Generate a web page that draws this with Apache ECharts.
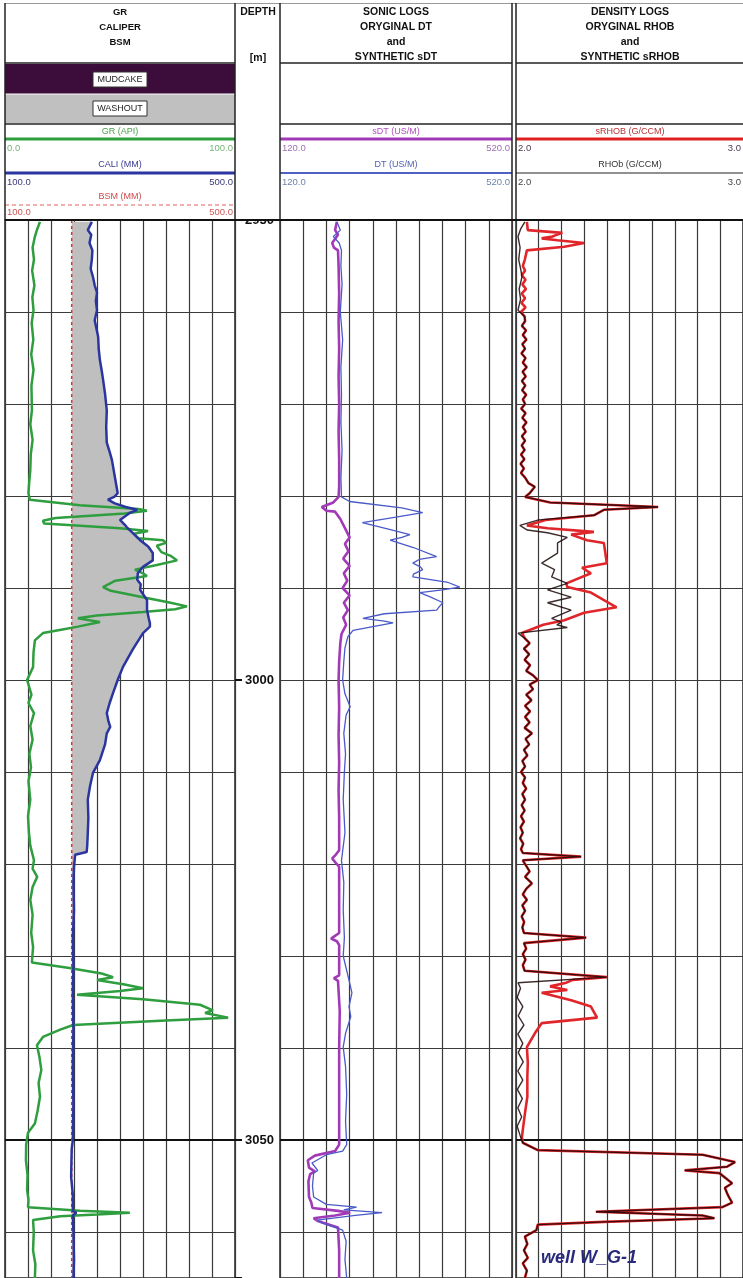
<!DOCTYPE html>
<html><head><meta charset="utf-8">
<script src="https://cdn.jsdelivr.net/npm/echarts@6/dist/echarts.min.js"></script>
<style>html,body{margin:0;padding:0;background:#fff}#c{width:743px;height:1278px}</style>
</head><body><div id="c"></div>
<script>
// ---------------- DATA ----------------
const depthMin = 2950, depthMax = 3065;
const depthTickLabels = [2950, 3000, 3050];
const grScale = [0, 100];
const caliScale = [100, 500];
const sonicScale = [120, 520];
const densScale = [2.0, 3.0];
const bsmValue = 216;

// [depth (m), GR (API)]
const grLog = [
[2950.2,15.2],[2951.0,14.0],[2951.8,13.0],[2953.0,12.0],[2954.3,12.6],[2955.5,11.8],[2957.1,12.8],[2958.4,11.9],
[2959.8,12.4],[2961.2,11.6],[2963.0,12.3],[2964.6,11.4],[2966.3,12.4],[2968.0,11.5],[2970.7,11.7],[2972.2,11.0],
[2973.9,12.0],[2975.5,11.2],[2977.2,11.0],[2978.6,10.5],[2979.7,10.2],[2980.4,10.8],[2981.0,32.6],[2981.4,58.0],
[2981.6,61.7],[2981.9,52.0],[2982.4,22.0],[2982.7,16.5],[2983.0,17.0],[2983.5,50.0],[2983.8,62.2],[2984.1,56.0],
[2984.6,58.0],[2984.8,68.7],[2985.1,70.0],[2985.4,66.0],[2986.1,68.0],[2986.5,72.0],[2987.0,74.8],[2987.5,66.0],
[2988.0,56.5],[2988.4,60.0],[2988.7,61.7],[2989.2,48.0],[2989.9,42.6],[2990.3,46.0],[2991.0,60.0],[2991.6,72.0],
[2992.0,79.1],[2992.3,74.0],[2992.6,60.0],[2993.0,40.0],[2993.3,31.7],[2993.7,41.3],[2994.2,31.7],[2994.5,25.0],
[2994.9,16.5],[2995.7,13.0],[2997.0,12.4],[2998.6,12.2],[3000.0,9.6],[3001.6,11.5],[3002.5,10.2],[3003.6,12.6],
[3005.0,11.0],[3006.5,12.0],[3008.0,10.6],[3009.5,11.3],[3011.0,10.2],[3013.0,11.0],[3014.8,10.0],[3016.6,10.4],
[3018.0,11.0],[3019.6,12.6],[3020.5,12.0],[3021.4,14.0],[3022.5,12.0],[3023.9,11.0],[3025.5,12.0],[3027.5,11.4],
[3029.0,12.2],[3030.7,11.7],[3031.3,28.0],[3031.9,42.0],[3032.3,47.0],[3032.6,40.0],[3033.1,52.0],[3033.5,60.0],
[3033.8,50.0],[3034.2,31.3],[3034.7,60.0],[3035.3,84.8],[3035.9,90.4],[3036.2,87.0],[3036.7,97.0],[3037.0,70.0],
[3037.5,29.6],[3038.0,24.0],[3038.8,16.5],[3039.7,13.9],[3041.0,15.0],[3042.4,15.8],[3043.8,14.6],[3045.3,15.2],
[3046.8,14.2],[3048.2,13.0],[3049.2,10.0],[3050.5,9.2],[3052.2,9.1],[3053.8,9.8],[3055.4,9.6],[3056.5,10.2],
[3057.3,10.0],[3057.7,32.6],[3057.9,54.3],[3058.1,40.0],[3058.3,24.0],[3058.7,12.2],[3060.0,12.5],[3062.0,12.2],
[3063.5,13.2],[3065.0,13.0]
];

// [depth, CALI (mm)]
const caliLog = [
[2950.2,251],[2951.1,244],[2951.6,250],[2952.5,247],[2953.3,252],[2954.3,251],[2955.3,249],[2956.2,253],
[2957.1,256],[2957.9,260],[2958.8,258],[2959.8,260],[2960.9,256],[2961.8,259],[2962.7,262],[2964.0,263],
[2965.2,265],[2966.3,268],[2967.1,270],[2968.9,274],[2970.7,277],[2972.5,276],[2974.2,277],[2975.2,282],
[2976.1,286],[2977.9,291],[2979.7,296],[2980.1,290],[2980.4,279],[2980.8,291],[2981.2,310],[2981.5,330],
[2981.8,318],[2982.6,300],[2983.1,308],[2983.4,312],[2984.0,322],[2984.8,335],[2985.5,349],[2986.2,357],
[2987.0,357],[2987.7,340],[2988.4,331],[2989.1,330],[2989.6,336],[2990.2,335],[2991.3,347],[2992.4,347],
[2993.3,350],[2993.8,352],[2994.2,352],[2994.9,340],[2996.7,322],[2998.6,305],[3000.0,296],[3001.4,288],
[3002.5,282],[3003.6,277],[3004.5,280],[3005.1,283],[3005.8,277],[3007.0,274],[3008.7,265],[3010.1,253],
[3011.5,248],[3013.0,244],[3015.0,245],[3016.6,244],[3018.0,243],[3018.7,242],[3019.0,222],[3020.3,220],
[3022.0,219],[3025.0,220],[3028.0,218],[3031.0,219],[3034.0,218],[3038.0,219],[3042.0,218],[3046.0,219],
[3050.0,218],[3051.0,216],[3054.0,215],[3056.0,218],[3057.7,218],[3057.9,224],[3058.2,218],[3060.0,219],
[3063.0,220],[3065.0,219]
];

// [depth, sDT (us/m)]
const sdtLog = [
[2950.2,218],[2951.1,215],[2951.6,220],[2952.5,210],[2953.0,213],[2953.3,220],[2955,221],[2958,222],[2961,221],
[2964,222],[2967,221],[2970,222],[2973,221],[2976,222],[2979,222],[2980.1,221],[2980.7,212],[2981.2,192],
[2981.6,200],[2981.7,215],[2982.5,224],[2983.5,232],[2984.5,240],[2985.2,232],[2986,238],[2986.8,229],
[2987.6,240],[2988.4,230],[2989.2,236],[2990,228],[2990.8,240],[2991.6,230],[2992.4,237],[2993.2,229],
[2994,234],[2995,226],[2996,224],[2998,222],[3000,221],[3003,222],[3006,221],[3009,222],[3012,221],[3015,222],
[3018.5,222],[3019.0,216],[3019.4,210],[3019.8,215],[3020.3,222],[3024,222],[3027.5,222],[3027.9,213],
[3028.1,208],[3028.4,218],[3028.8,222],[3032.1,222],[3032.4,213],[3032.7,220],[3036,223],[3040,222],
[3044,222],[3048,222],[3050.5,222],[3051.2,215],[3051.7,180],[3052.2,168],[3053.0,170],[3053.4,180],
[3053.7,172],[3054.5,169],[3056.2,170],[3056.8,174],[3057.4,176],[3057.7,220],[3057.9,241],[3058.2,215],
[3058.5,178],[3058.8,185],[3059.2,205],[3059.5,220],[3062,222],[3065,222]
];

// [depth, DT (us/m)]
const dtLog = [
[2950.2,218],[2951.1,224],[2951.8,212],[2952.5,222],[2953.3,226],[2955,225],[2957,227],[2960,224],[2963,228],
[2966,225],[2969,226],[2972,225],[2975,227],[2978,225],[2980.1,226],[2980.6,240],[2981.3,330],[2981.8,366],
[2982.3,320],[2982.9,262],[2983.5,300],[2984.2,344],[2984.5,330],[2984.8,310],[2985.6,350],[2986.6,390],
[2986.9,360],[2987.3,349],[2987.7,362],[2988.0,366],[2988.5,350],[2988.8,349],[2989.4,410],[2989.9,430],
[2990.2,400],[2990.5,361],[2991.0,380],[2991.6,401],[2992.0,395],[2992.4,390],[2992.8,300],[2993.3,263],
[2993.6,300],[2993.8,315],[2994.2,280],[2994.6,246],[2995.3,237],[2996.5,232],[2998,230],[3000,228],
[3001.5,232],[3002.9,241],[3003.8,234],[3005.8,230],[3008,233],[3010,231],[3013,229],[3016.6,232],
[3019.6,226],[3022,230],[3025,229],[3028,231],[3030,229],[3032.9,240],[3034,244],[3035.5,239],[3036.6,242],
[3038.4,233],[3039.9,229],[3042,233],[3045,235],[3048,233],[3050.5,235],[3051.2,228],[3051.6,200],
[3052.5,175],[3053.3,185],[3053.6,178],[3055,176],[3056.2,178],[3057.0,200],[3057.3,252],[3057.6,230],
[3057.9,296],[3058.2,250],[3058.7,184],[3059.0,192],[3059.8,228],[3061,234],[3063,232],[3065,235]
];

// density segments shared by both RHOB curves
const rhoMidShared = [
[2961.0,2.040],[2961.5,2.026],[2962.0,2.044],[2962.5,2.030],[2963.0,2.046],[2963.5,2.028],[2964.0,2.040],
[2964.5,2.024],[2965.0,2.042],[2965.5,2.030],[2966.0,2.047],[2966.5,2.029],[2967.0,2.043],[2967.5,2.026],
[2968.0,2.041],[2968.5,2.027],[2969.0,2.045],[2969.5,2.030],[2970.0,2.040],[2970.5,2.023],[2971.0,2.042],
[2971.5,2.028],[2972.0,2.046],[2972.5,2.030],[2973.0,2.043],[2973.5,2.026],[2974.0,2.040],[2974.5,2.025],
[2975.0,2.038],[2975.5,2.022],[2976.0,2.037],[2976.5,2.020],[2977.0,2.035],[2977.5,2.022],[2978.0,2.040],
[2978.6,2.055],[2979.0,2.083],[2979.7,2.060],[2980.1,2.040],[2980.7,2.150],[2981.0,2.450],[2981.2,2.626],
[2981.5,2.387],[2982.1,2.343]
];
const rhoLowShared = [
[2995.5,2.040],[2996.0,2.060],[2996.6,2.035],[2997.2,2.058],[2997.8,2.038],[2998.4,2.062],[2999.0,2.045],
[2999.5,2.075],[3000.0,2.096],[3000.5,2.060],[3001.0,2.075],[3001.6,2.045],[3002.2,2.068],[3002.8,2.040],
[3003.4,2.062],[3004.0,2.040],[3004.6,2.060],[3005.2,2.038],[3005.8,2.070],[3006.4,2.042],[3007.0,2.058],
[3007.6,2.035],[3008.2,2.050],[3008.8,2.028],[3009.4,2.040],[3010.0,2.022],[3010.6,2.040],[3011.2,2.030],
[3011.8,2.045],[3012.4,2.028],[3013.0,2.040],[3013.6,2.025],[3014.2,2.038],[3014.8,2.022],[3015.4,2.035],
[3016.0,2.020],[3016.6,2.030],[3017.2,2.018],[3017.8,2.032],[3018.4,2.022],[3018.8,2.030],[3019.2,2.287],
[3019.6,2.030],[3020.2,2.045],[3020.8,2.060],[3021.4,2.040],[3022.1,2.070],[3022.7,2.045],[3023.3,2.030],
[3023.9,2.048],[3024.5,2.028],[3025.1,2.040],[3025.7,2.025],[3026.3,2.036],[3026.9,2.028],[3027.5,2.035],
[3028.0,2.309],[3028.6,2.035],[3029.2,2.045],[3029.8,2.030],[3030.4,2.042],[3031.0,2.030],[3031.6,2.038],
[3032.3,2.400]
];
const rhoBottomShared = [
[3050.3,2.030],[3051.1,2.096],[3051.6,2.822],[3052.4,2.965],[3052.9,2.930],[3053.3,2.743],[3053.6,2.896],
[3054.7,2.952],[3055.2,2.920],[3055.8,2.930],[3056.3,2.940],[3056.8,2.952],[3057.3,2.909],[3057.8,2.352],
[3058.2,2.822],[3058.5,2.874],[3058.9,2.387],[3059.2,2.096],[3059.8,2.090],[3060.5,2.039],[3061.3,2.050],
[3062,2.035],[3062.8,2.052],[3063.4,2.030],[3064.2,2.048],[3065,2.039]
];
// synthetic sRHOB only sections
const srhobTop = [
[2950.2,2.048],[2951.1,2.052],[2951.4,2.204],[2951.7,2.170],[2951.8,2.161],[2952.0,2.113],[2952.2,2.183],
[2952.5,2.300],[2952.9,2.213],[2953.3,2.048],[2954.3,2.039],[2955.0,2.030],[2955.5,2.040],[2956.0,2.026],
[2956.5,2.042],[2957.0,2.028],[2957.5,2.044],[2958.0,2.025],[2958.5,2.040],[2959.0,2.024],[2959.5,2.042],
[2960.0,2.022],[2960.5,2.038]
];
const srhobZoneA = [
[2982.6,2.130],[2983.2,2.048],[2983.5,2.139],[2983.9,2.343],[2984.2,2.243],[2984.8,2.313],[2985.1,2.387],
[2987.3,2.400],[2987.8,2.291],[2988.4,2.330],[2989.5,2.222],[2989.9,2.226],[2990.5,2.330],[2992.1,2.443],
[2992.7,2.300],[2993.5,2.213],[2994.0,2.120],[2994.9,2.026]
];
const srhobZoneB = [
[3032.6,2.250],[3032.9,2.222],[3033.3,2.150],[3033.7,2.226],[3034.0,2.113],[3034.8,2.243],[3035.5,2.330],
[3036.7,2.357],[3037.3,2.113],[3038.4,2.083],[3039.9,2.048],[3041.6,2.052],[3043,2.050],[3045.3,2.050],
[3047,2.040],[3048.9,2.030],[3049.7,2.026]
];
// measured RHOB only sections
const rhobTop = [
[2950.2,2.039],[2951.0,2.020],[2951.8,2.009],[2953.0,2.018],[2954.3,2.012],[2955.5,2.022],[2956.2,2.026],
[2957.5,2.014],[2958.6,2.020],[2959.8,2.009],[2960.5,2.038]
];
const rhobZoneA = [
[2982.6,2.100],[2983.2,2.017],[2983.7,2.050],[2984.0,2.139],[2984.5,2.226],[2985.1,2.183],[2986.2,2.183],
[2987.3,2.113],[2988.0,2.170],[2988.8,2.157],[2989.5,2.226],[2990.2,2.139],[2991.0,2.243],[2991.6,2.139],
[2992.4,2.243],[2993.3,2.157],[2993.7,2.200],[2994.0,2.180],[2994.3,2.226],[2994.9,2.009]
];
const rhobZoneB = [
[3032.9,2.009],[3033.5,2.020],[3034.5,2.005],[3035.5,2.030],[3036.5,2.010],[3037.5,2.035],[3038.5,2.008],
[3039.5,2.030],[3040.5,2.010],[3041.5,2.032],[3042.5,2.008],[3043.5,2.030],[3044.5,2.006],[3045.5,2.028],
[3046.5,2.008],[3047.5,2.025],[3048.5,2.005],[3049.5,2.018]
];
const srhobLog = [].concat(srhobTop, rhoMidShared, srhobZoneA, rhoLowShared, srhobZoneB, rhoBottomShared);
const rhobLog = [].concat(rhobTop, rhoMidShared, rhobZoneA, rhoLowShared, rhobZoneB, rhoBottomShared);

// ---------------- CHART ----------------
const FONT = '"Liberation Sans", Arial, sans-serif';
const GT = 220, GH = 1058;
const tracks = [
  {left:5, width:230},
  {left:235, width:45},
  {left:280, width:232},
  {left:516, width:230}
];
const xy = arr => arr.map(p => [p[1], p[0]]);

const gridLine = {show:true, lineStyle:{color:'#3a3a3a', width:1.2}};
function depthAxis(gi){
  return {gridIndex:gi, type:'value', inverse:true, min:depthMin, max:depthMax, interval:10,
    axisLine:{show:false}, axisTick:{show:false}, axisLabel:{show:false}, splitLine:gridLine};
}
function valAxis(gi, sc, interval, show){
  return {gridIndex:gi, type:'value', min:sc[0], max:sc[1], interval:interval, show:show !== false,
    axisLine:{show:false}, axisTick:{show:false}, axisLabel:{show:false}, splitLine:gridLine};
}
const mark3050 = {symbol:'none', silent:true, animation:false, label:{show:false},
  lineStyle:{color:'#111', width:2.2, type:'solid'}, data:[{yAxis:3050}]};

function line(name, xi, yi, data, color, width, extra){
  return Object.assign({name, type:'line', xAxisIndex:xi, yAxisIndex:yi, data:xy(data),
    showSymbol:false, symbol:'none', smooth:false, animation:false, silent:true,
    lineStyle:{color, width}, z:5}, extra || {});
}

// header graphics
const G = [];
function T(x, y, text, font, fill, align){
  G.push({type:'text', z:110, style:{x, y, text, font, fill, textAlign:align||'center', textVerticalAlign:'middle'}});
}
function L(x1, y1, x2, y2, stroke, w, dash){
  G.push({type:'line', z:105, shape:{x1,y1,x2,y2}, style:{stroke, lineWidth:w, lineDash:dash||null}});
}
function R(x, y, w, h, fill, stroke, lw){
  G.push({type:'rect', z:102, shape:{x,y,width:w,height:h}, style:{fill, stroke:stroke||null, lineWidth:lw||0}});
}
R(0, 0, 743, 219, '#fff');
const tf1 = 'bold 9.5px ' + FONT, tf2 = 'bold 10.5px ' + FONT;
T(120, 12, 'GR', tf1, '#111'); T(120, 27, 'CALIPER', tf1, '#111'); T(120, 42, 'BSM', tf1, '#111');
T(258, 12, 'DEPTH', tf2, '#111'); T(258, 58, '[m]', tf2, '#111');
T(396, 12, 'SONIC LOGS', tf2, '#111'); T(396, 27, 'ORYGINAL DT', tf2, '#111');
T(396, 42, 'and', tf2, '#111'); T(396, 57, 'SYNTHETIC sDT', tf2, '#111');
T(630, 12, 'DENSITY LOGS', tf2, '#111'); T(630, 27, 'ORYGINAL RHOB', tf2, '#111');
T(630, 42, 'and', tf2, '#111'); T(630, 57, 'SYNTHETIC sRHOB', tf2, '#111');
// mudcake / washout
R(5, 64, 230, 29.5, '#3c0c3a');
R(5, 94.5, 230, 28.5, '#c0c0c0');
R(93, 72, 54, 15, '#fff', '#333', 1);
R(93, 101, 54, 15, '#fff', '#333', 1);
T(120, 79.5, 'MUDCAKE', '9px ' + FONT, '#222');
T(120, 108.5, 'WASHOUT', '9px ' + FONT, '#222');
// legends
const lf = '9px ' + FONT, nf = '9.5px ' + FONT;
T(120, 132, 'GR (API)', lf, '#4a9e4a'); L(5, 139, 235, 139, '#2e9e3e', 3);
T(7, 148, '0.0', nf, '#78b478', 'left'); T(233, 148, '100.0', nf, '#78b478', 'right');
T(120, 165, 'CALI (MM)', lf, '#3a3a90'); L(5, 173, 235, 173, '#2b35a0', 3);
T(7, 182, '100.0', nf, '#3a3a78', 'left'); T(233, 182, '500.0', nf, '#3a3a78', 'right');
T(120, 197, 'BSM (MM)', lf, '#d04a4a'); L(5, 205, 235, 205, '#e06060', 1, [4, 3]);
T(7, 212, '100.0', nf, '#cc5a5a', 'left'); T(233, 212, '500.0', nf, '#cc5a5a', 'right');

T(396, 132, 'sDT (US/M)', lf, '#b050c0'); L(280, 139, 512, 139, '#a23ab8', 3);
T(282, 148, '120.0', nf, '#a070b0', 'left'); T(510, 148, '520.0', nf, '#a070b0', 'right');
T(396, 165, 'DT (US/M)', lf, '#5060b0'); L(280, 173, 512, 173, '#5060c0', 1.8);
T(282, 182, '120.0', nf, '#7080a8', 'left'); T(510, 182, '520.0', nf, '#7080a8', 'right');

T(630, 132, 'sRHOB (G/CCM)', lf, '#b83030'); L(516, 139, 743, 139, '#e02020', 3);
T(518, 148, '2.0', nf, '#503a50', 'left'); T(741, 148, '3.0', nf, '#503a50', 'right');
T(630, 165, 'RHOb (G/CCM)', lf, '#333'); L(516, 173, 743, 173, '#222', 1);
T(518, 182, '2.0', nf, '#444', 'left'); T(741, 182, '3.0', nf, '#444', 'right');

// header frame
L(5, 3.5, 743, 3.5, '#999', 1);
[5, 235, 280, 512, 516].forEach(x => L(x, 3, x, 220, '#222', 1.5));
[[5,235],[280,512],[516,743]].forEach(([a,b]) => { L(a, 63, b, 63, '#222', 1.5); L(a, 124, b, 124, '#222', 1.5); });
L(5, 220, 743, 220, '#111', 2.2);
// well name
G.push({type:'text', z:110, style:{x:541, y:1258, text:'well W_G-1', font:'italic bold 18px ' + FONT,
  fill:'#2a2a7c', textAlign:'left', textVerticalAlign:'middle'}});

const option = {
  backgroundColor:'#fff',
  animation:false,
  grid: tracks.map((t, i) => ({left:t.left, top:GT, width:t.width, height:GH, show:i !== 1,
     borderColor:'#222', borderWidth:1.5, backgroundColor:'transparent', containLabel:false})),
  xAxis: [
    valAxis(0, grScale, 10),
    valAxis(0, caliScale, 40, false),
    valAxis(1, [0, 1], 1, false),
    valAxis(2, sonicScale, 40),
    valAxis(3, densScale, 0.1)
  ],
  yAxis: [
    depthAxis(0),
    {gridIndex:1, type:'value', inverse:true, min:depthMin, max:depthMax, interval:50,
      axisLine:{show:false}, splitLine:{show:false},
      axisTick:{show:true, inside:true, length:7, lineStyle:{color:'#111', width:2}},
      axisLabel:{show:true, inside:true, margin:10, color:'#111', fontWeight:'bold', fontSize:13, fontFamily:FONT,
        formatter: v => depthTickLabels.indexOf(v) >= 0 ? String(v) : ''}},
    depthAxis(2),
    depthAxis(3)
  ],
  graphic: {elements: G},
  series: [
    {type:'custom', xAxisIndex:1, yAxisIndex:0, z:2, silent:true, animation:false,
     data:[[bsmValue, depthMin]],
     renderItem: (params, api) => {
       const pts = caliLog.map(p => api.coord([Math.max(p[1], bsmValue), p[0]]));
       pts.push(api.coord([bsmValue, caliLog[caliLog.length-1][0]]));
       pts.push(api.coord([bsmValue, caliLog[0][0]]));
       return {type:'polygon', shape:{points:pts}, style:{fill:'#bfbfbf'}};
     }},
    line('BSM', 1, 0, [[depthMin, bsmValue], [depthMax, bsmValue]], '#e03030', 1.5, {lineStyle:{color:'#e03030', width:1.5, type:[3,3]}}),
    line('GR', 0, 0, grLog, '#2e9e3e', 2.5, {markLine: mark3050}),
    line('CALI', 1, 0, caliLog, '#2b35a0', 2.5),
    line('sDT', 3, 2, sdtLog, '#a23ab8', 2.6, {markLine: mark3050}),
    line('DT', 3, 2, dtLog, '#4a5ac8', 1.3),
    line('sRHOB', 4, 3, srhobLog, '#e0262a', 2.6, {markLine: mark3050}),
    line('RHOB', 4, 3, rhobLog, '#1a0606', 1.4, {lineStyle:{color:'#1a0606', width:1.4, opacity:0.85}})
  ]
};
const chart = echarts.init(document.getElementById('c'), null, {renderer:'canvas'});
chart.setOption(option);
</script>
</body></html>
